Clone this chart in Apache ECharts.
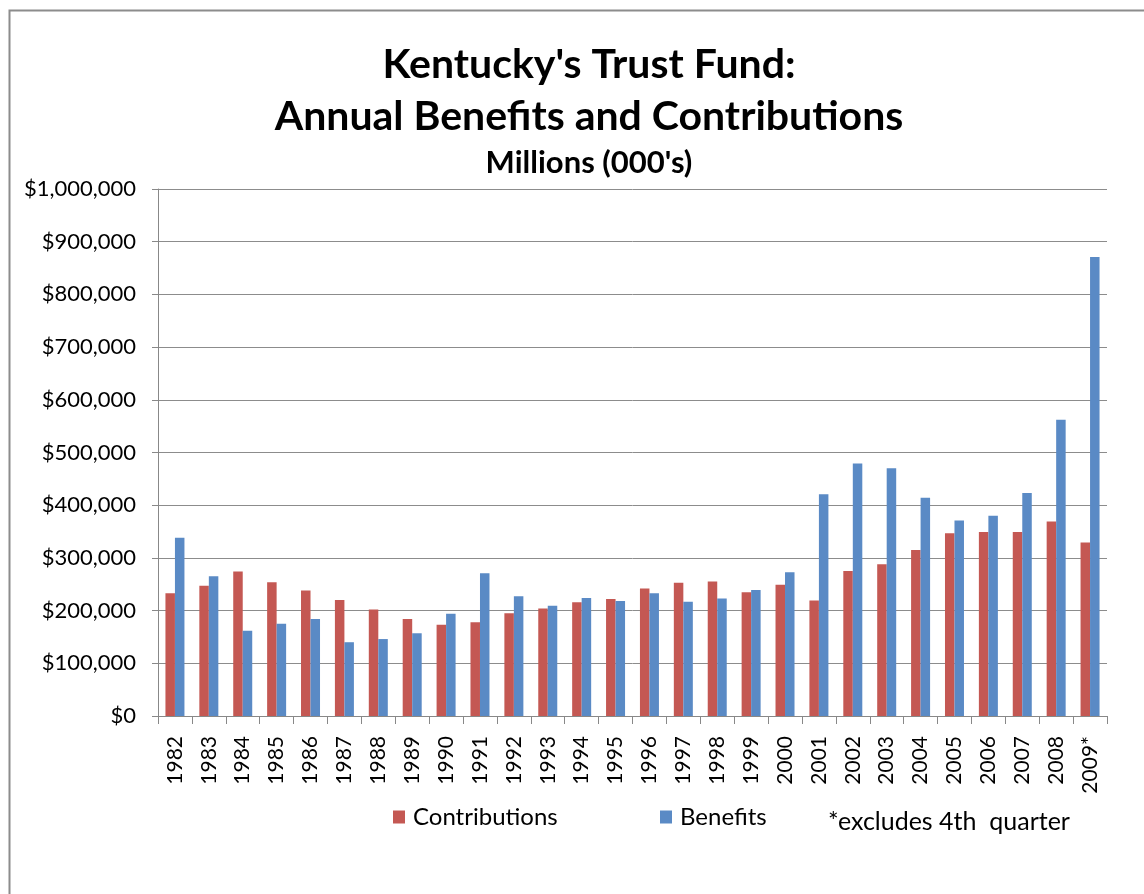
<!DOCTYPE html>
<html>
<head>
<meta charset="utf-8">
<script src="https://cdn.jsdelivr.net/npm/echarts@6/dist/echarts.min.js"></script>
<style>
html,body{margin:0;padding:0;background:#fff;}
#chart{width:1144px;height:894px;}
</style>
</head>
<body>
<div id="chart"></div>
<script>
var years = ['1982','1983','1984','1985','1986','1987','1988','1989','1990','1991','1992','1993','1994','1995','1996','1997','1998','1999','2000','2001','2002','2003','2004','2005','2006','2007','2008','2009*'];
var contributions = [233000,247000,274000,254000,238000,220000,202000,184000,173000,178000,195000,204000,216000,222000,242000,253000,255000,235000,249000,219000,275000,288000,315000,347000,349000,349000,369000,329000];
var benefits = [338000,265000,162000,175000,184000,140000,146000,157000,194000,271000,227000,209000,224000,218000,233000,217000,223000,239000,273000,421000,479000,470000,414000,371000,380000,423000,562000,871000];
var yTicks = {min: 0, max: 1000000, interval: 100000};

var FONT = 'Lato, "Noto Sans", sans-serif';
var chart = echarts.init(document.getElementById('chart'), null, {renderer: 'canvas'});
chart.setOption({
  animation: false,
  backgroundColor: '#ffffff',
  title: [
    {text: "Kentucky's Trust Fund:\nAnnual Benefits and Contributions", left: 584, top: 34, textAlign: 'center',
     textStyle: {fontFamily: FONT, fontSize: 41, fontWeight: 'bold', color: '#000', lineHeight: 52}},
    {text: "Millions (000's)", left: 584, top: 142, textAlign: 'center',
     textStyle: {fontFamily: FONT, fontSize: 31, fontWeight: 'bold', color: '#000'}}
  ],
  legend: [
    {data: ['Contributions'], left: 388, top: 800, icon: 'rect', itemWidth: 12, itemHeight: 13,
     textStyle: {fontFamily: FONT, fontSize: 24, color: '#000', padding: [0,0,0,3]}},
    {data: ['Benefits'], left: 655, top: 800, icon: 'rect', itemWidth: 12, itemHeight: 13,
     textStyle: {fontFamily: FONT, fontSize: 24, color: '#000', padding: [0,0,0,3]}}
  ],
  grid: {left: 158, right: 37, top: 189, bottom: 178, containLabel: false},
  xAxis: {
    type: 'category', data: years,
    axisLine: {show: true, lineStyle: {color: '#888', width: 1}},
    axisTick: {show: true, length: 8, lineStyle: {color: '#888'}},
    axisLabel: {rotate: 90, margin: 20, interval: 0, fontFamily: FONT, fontSize: 21, color: '#000'}
  },
  yAxis: {
    type: 'value', min: yTicks.min, max: yTicks.max, interval: yTicks.interval,
    axisLine: {show: true, lineStyle: {color: '#888', width: 1}},
    axisTick: {show: true, length: 6, lineStyle: {color: '#888'}},
    splitLine: {show: true, lineStyle: {color: '#8c8c8c', width: 1}},
    axisLabel: {margin: 22, fontFamily: FONT, fontSize: 22, color: '#000',
      formatter: function (v) { return '$' + v.toString().replace(/\B(?=(\d{3})+(?!\d))/g, ','); }}
  },
  series: [
    {name: 'Contributions', type: 'bar', data: contributions, barWidth: 9.5, barGap: '0%',
     itemStyle: {color: '#c45853'}},
    {name: 'Benefits', type: 'bar', data: benefits, barWidth: 9.5, barGap: '0%',
     itemStyle: {color: '#5a8ac5'}}
  ],
  graphic: [
    {type: 'rect', shape: {x: 9.5, y: 10.5, width: 1200, height: 1000}, silent: true, z: -10,
     style: {fill: 'none', stroke: '#8c8c8c', lineWidth: 2}},
    {type: 'text', left: 828, top: 809, silent: true,
     style: {text: '*excludes 4th  quarter', font: '25px ' + FONT, fill: '#000'}}
  ]
});
</script>
</body>
</html>
